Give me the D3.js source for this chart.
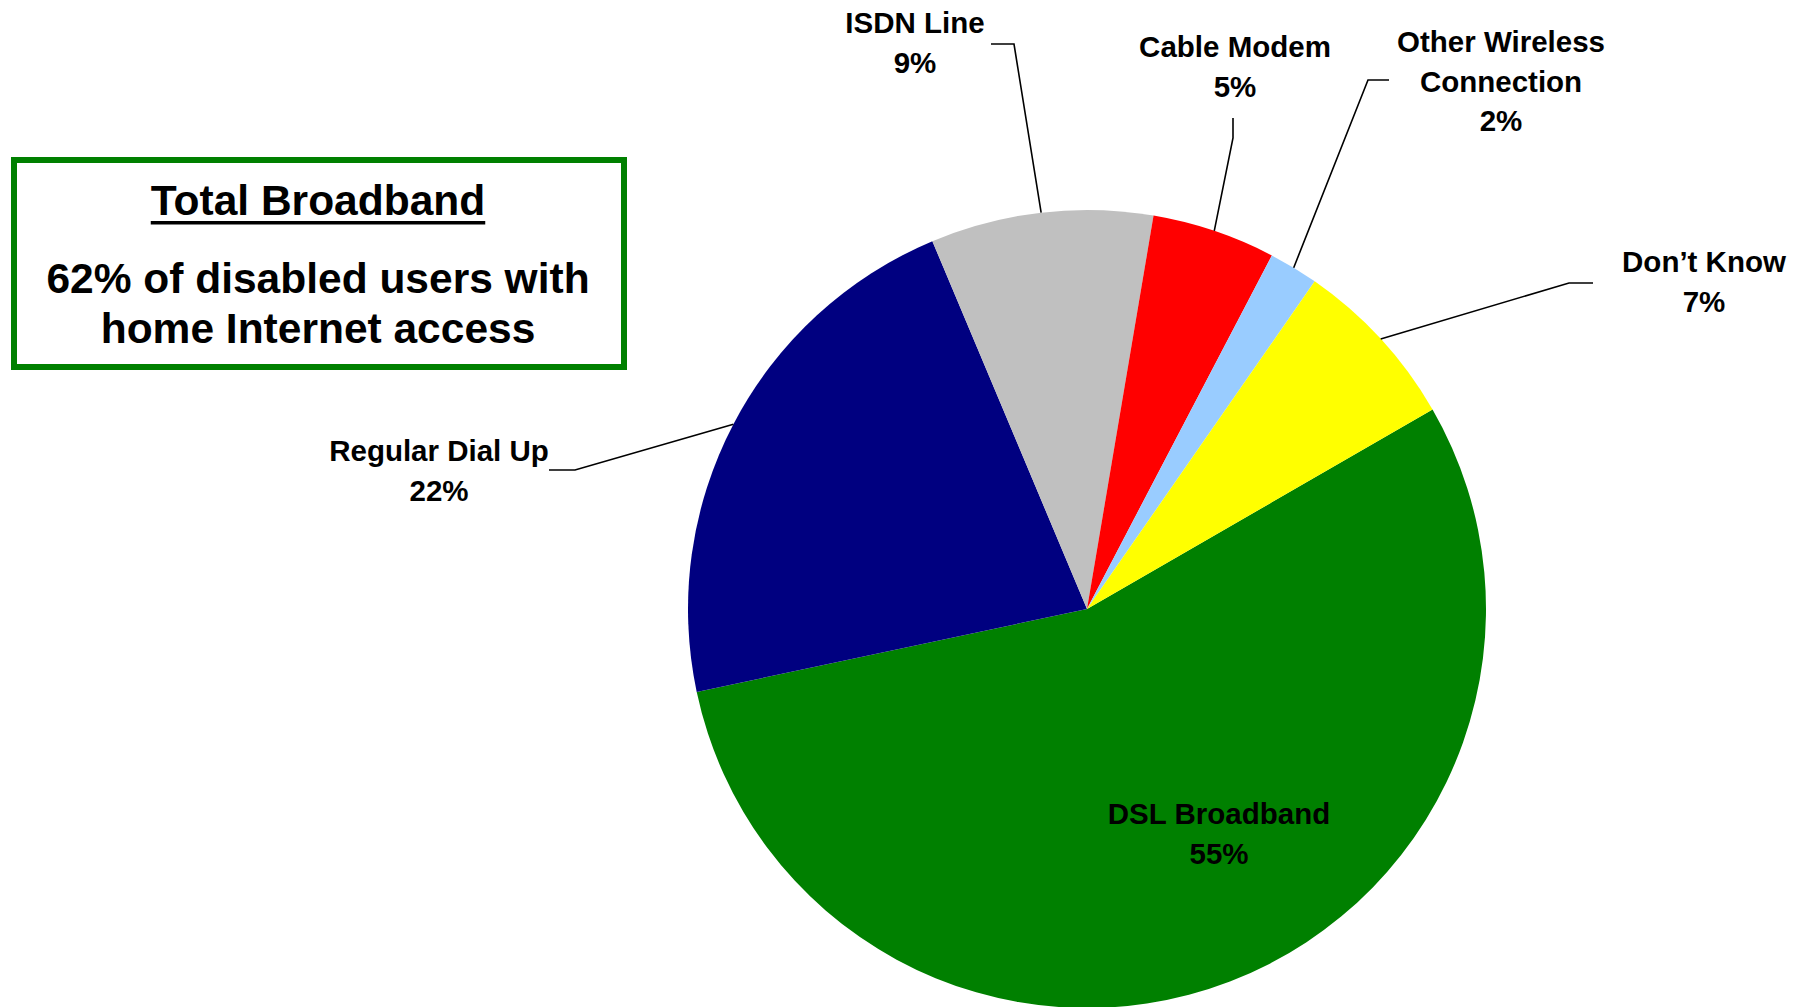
<!DOCTYPE html>
<html>
<head>
<meta charset="utf-8">
<script src="https://cdn.jsdelivr.net/npm/d3@7"></script>
<style>
  html, body { margin: 0; padding: 0; background: #fff; }
  svg text { font-family: "Liberation Sans", Arial, sans-serif; font-weight: bold; fill: #000; }
</style>
</head>
<body>
<svg id="chart" width="1802" height="1007"></svg>
<script>
// Home connection type among disabled users with Internet access
const categories = ["DSL Broadband", "Regular Dial Up", "ISDN Line", "Cable Modem", "Other Wireless Connection", "Don\u2019t Know"];
const values = [55, 22, 9, 5, 2, 7];
const colors = ["#008000", "#000080", "#C0C0C0", "#FF0000", "#99CCFF", "#FFFF00"];
const labelLines = [["DSL Broadband"], ["Regular Dial Up"], ["ISDN Line"], ["Cable Modem"], ["Other Wireless", "Connection"], ["Don\u2019t Know"]];

// Label anchor (centre x, first baseline) and leader-line elbows
const labelPos = [
  { x: 1219, y: 824, leader: null },
  { x: 439, y: 461, leader: [[549, 470], [575, 470]] },
  { x: 915, y: 33, leader: [[991, 44], [1014, 44]] },
  { x: 1235, y: 57, leader: [[1233, 118], [1233, 138]] },
  { x: 1501, y: 52, leader: [[1389, 80], [1368, 80]] },
  { x: 1704, y: 272, leader: [[1593, 283], [1569, 283]] }
];

const svg = d3.select("#chart");
const cx = 1087, cy = 609, radius = 399;

const data = categories.map((c, i) => ({ name: c, value: values[i], color: colors[i], lines: labelLines[i], pos: labelPos[i] }));

const startA = 60 * Math.PI / 180;
const pie = d3.pie().sort(null).value(d => d.value).startAngle(startA).endAngle(startA + 2 * Math.PI);
const arc = d3.arc().innerRadius(0).outerRadius(radius);
const arcs = pie(data);

const g = svg.append("g").attr("transform", `translate(${cx},${cy})`);
g.selectAll("path.slice").data(arcs).enter().append("path")
  .attr("class", "slice")
  .attr("d", arc)
  .attr("fill", d => d.data.color);

// Leader lines from the outer edge of each slice to its label
const leaderData = arcs.filter(a => a.data.pos.leader);
svg.selectAll("path.leader").data(leaderData).enter().append("path")
  .attr("class", "leader")
  .attr("fill", "none")
  .attr("stroke", "#000")
  .attr("stroke-width", 1.6)
  .attr("d", a => {
    const mid = (a.startAngle + a.endAngle) / 2;
    const px = cx + radius * Math.sin(mid);
    const py = cy - radius * Math.cos(mid);
    const pts = a.data.pos.leader;
    return d3.line()([[pts[0][0], pts[0][1]], [pts[1][0], pts[1][1]], [px, py]]);
  });

// Slice labels: name lines then percentage
const lh = 39.5;
const labels = svg.selectAll("text.lbl").data(arcs).enter().append("text")
  .attr("class", "lbl")
  .attr("text-anchor", "middle")
  .style("font-size", "29.5px");
labels.each(function (a) {
  const t = d3.select(this);
  const p = a.data.pos;
  const lines = a.data.lines.concat([a.data.value + "%"]);
  lines.forEach((s, i) => {
    t.append("tspan").attr("x", p.x).attr("y", p.y + i * lh).text(s);
  });
});

// Summary box
const box = svg.append("g");
box.append("rect")
  .attr("x", 14).attr("y", 160).attr("width", 610).attr("height", 207)
  .attr("fill", "#fff").attr("stroke", "#008000").attr("stroke-width", 6);
const title = box.append("text").attr("x", 318).attr("y", 215)
  .attr("text-anchor", "middle").style("font-size", "42.5px").text("Total Broadband");
const tw = title.node().getComputedTextLength();
box.append("rect").attr("x", 318 - tw / 2).attr("y", 221).attr("width", tw).attr("height", 3.5).attr("fill", "#000");
box.append("text").attr("x", 318).attr("y", 293).attr("text-anchor", "middle")
  .style("font-size", "42.5px").text("62% of disabled users with");
box.append("text").attr("x", 318).attr("y", 343).attr("text-anchor", "middle")
  .style("font-size", "42.5px").text("home Internet access");
</script>
</body>
</html>
